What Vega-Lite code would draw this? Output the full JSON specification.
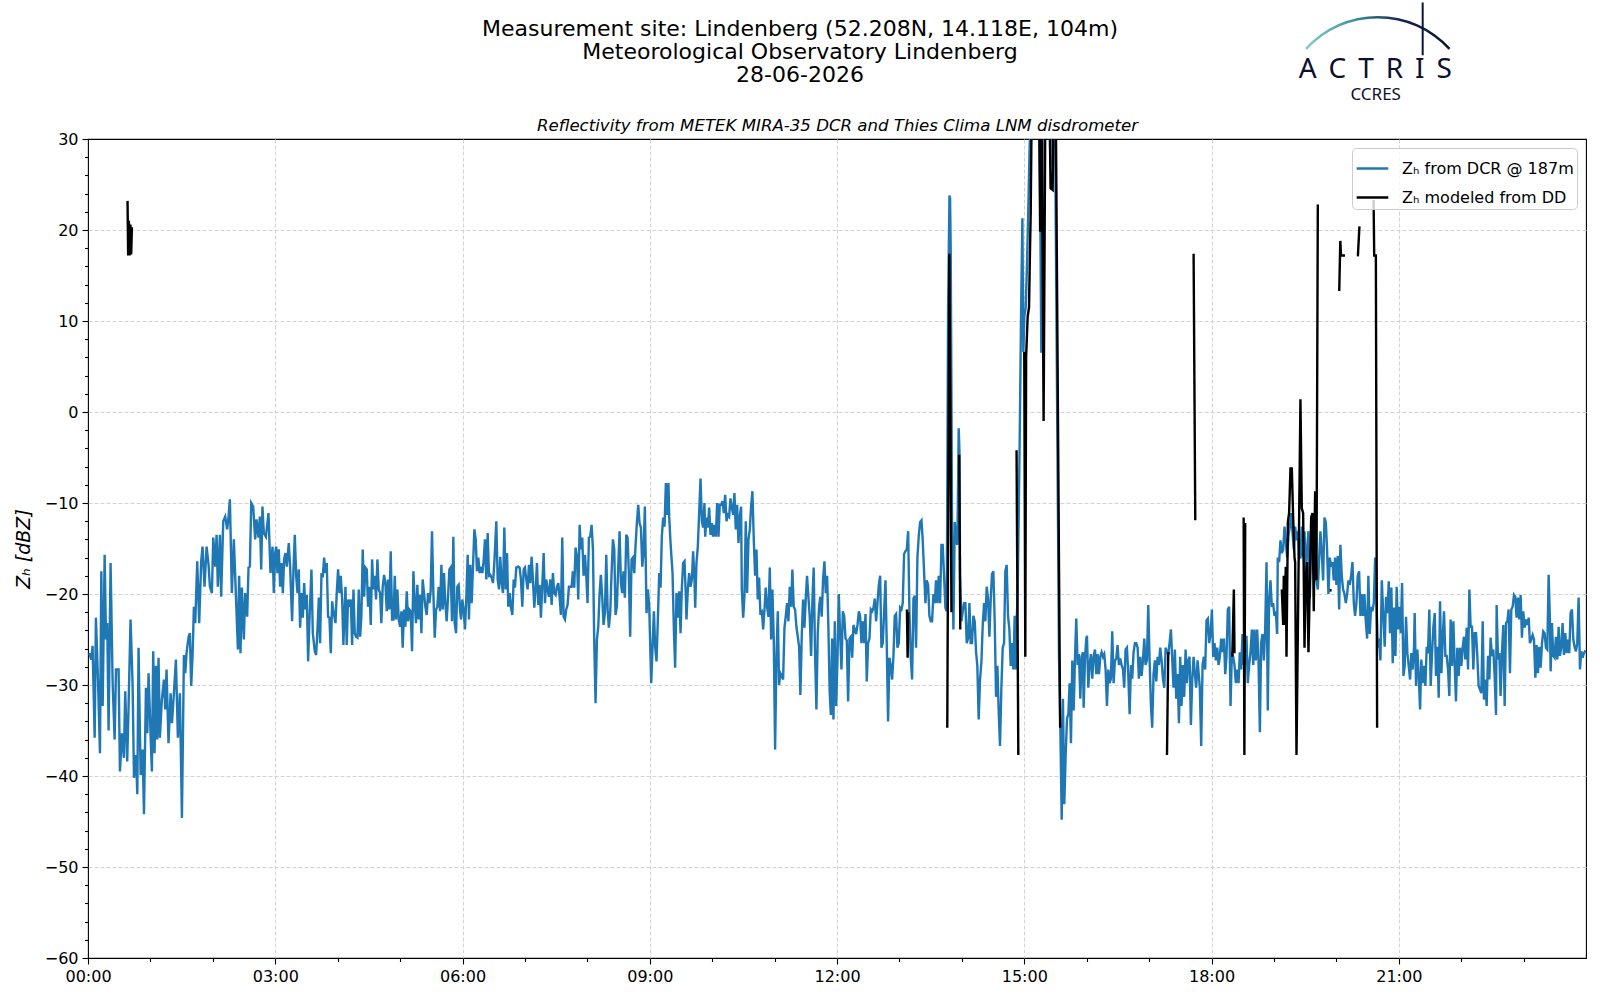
{
  "$schema": "https://vega.github.io/schema/vega-lite/v6.json",
  "width": 1498,
  "height": 819,
  "autosize": {"type": "none"},
  "padding": {"left": 88, "top": 139, "right": 14, "bottom": 42},
  "background": "white",
  "title": {
    "text": ["Measurement site: Lindenberg (52.208N, 14.118E, 104m)", "Meteorological Observatory Lindenberg", "28-06-2026"],
    "font": "DejaVu Sans",
    "fontSize": 22,
    "fontWeight": "normal",
    "lineHeight": 23,
    "color": "black",
    "anchor": "middle",
    "dx": -37,
    "offset": 0,
    "dy": 85.5
  },
  "datasets": {
    "dcr": [
      {"m":1.2,"z":-26.5},{"m":3.2,"z":-27.2},{"m":4.4,"z":-25.7},{"m":6.4,"z":-35.8},{"m":7.6,"z":-22.6},{"m":9.6,"z":-29.4},{"m":11.5,"z":-37.5},{"m":12.8,"z":-17.5},{"m":14.1,"z":-32.3},{"m":16,"z":-15.7},
      {"m":17.3,"z":-25},{"m":18.5,"z":-23.2},{"m":19.8,"z":-35},{"m":21.7,"z":-16.6},{"m":23.7,"z":-29.8},{"m":25.6,"z":-36},{"m":26.9,"z":-28.3},{"m":29.4,"z":-28.3},{"m":30.7,"z":-39.5},{"m":32.6,"z":-35.3},
      {"m":34.5,"z":-38},{"m":35.8,"z":-30.7},{"m":37.7,"z":-38.4},{"m":39,"z":-32.3},{"m":40.9,"z":-22.8},{"m":42.9,"z":-30.1},{"m":44.2,"z":-40.2},{"m":46.1,"z":-37.7},{"m":47.4,"z":-42},{"m":48.6,"z":-25.9},
      {"m":50.6,"z":-39.9},{"m":52.5,"z":-37.1},{"m":53.8,"z":-44.2},{"m":55.7,"z":-30.3},{"m":57,"z":-35.3},{"m":58.2,"z":-28.7},{"m":60.2,"z":-35.6},{"m":61.4,"z":-39.5},{"m":62.7,"z":-26.3},{"m":64,"z":-37.5},
      {"m":65.3,"z":-27.9},{"m":66.6,"z":-36},{"m":67.8,"z":-27},{"m":69.1,"z":-35.8},{"m":71,"z":-31.6},{"m":73,"z":-29.4},{"m":74.2,"z":-32.7},{"m":75.5,"z":-28.3},{"m":77.4,"z":-36.4},{"m":79.4,"z":-30.9},
      {"m":80.7,"z":-34.2},{"m":82.6,"z":-30.9},{"m":84.5,"z":-27.2},{"m":86.4,"z":-35.8},{"m":88.3,"z":-30.9},{"m":90.3,"z":-44.6},{"m":92.2,"z":-26.7},{"m":93.5,"z":-28.7},{"m":94.7,"z":-26.5},{"m":96.7,"z":-24.7},
      {"m":97.9,"z":-24.3},{"m":99.2,"z":-30.1},{"m":100.5,"z":-26.8},{"m":101.8,"z":-21.4},{"m":103.1,"z":-23.2},{"m":105,"z":-16.4},{"m":106.9,"z":-23.2},{"m":108.8,"z":-16.4},{"m":110.1,"z":-14.8},{"m":112,"z":-19.2},
      {"m":114,"z":-14.8},{"m":115.9,"z":-16.8},{"m":117.2,"z":-19.2},{"m":119.1,"z":-19.9},{"m":120.4,"z":-13.8},{"m":122.3,"z":-17},{"m":123.6,"z":-13.5},{"m":124.8,"z":-19.2},{"m":126.8,"z":-13.5},{"m":128,"z":-20.3},
      {"m":130,"z":-12},{"m":131.9,"z":-11.5},{"m":133.8,"z":-12.9},{"m":135.1,"z":-11.5},{"m":136.4,"z":-9.6},{"m":138.3,"z":-19.9},{"m":140.2,"z":-14},{"m":142.1,"z":-19.9},{"m":144.1,"z":-26.1},{"m":145.3,"z":-18},
      {"m":146.6,"z":-26.5},{"m":147.9,"z":-19.3},{"m":149.8,"z":-25},{"m":151.1,"z":-19.9},{"m":153,"z":-22.5},{"m":154.3,"z":-17.1},{"m":155.6,"z":-17},{"m":156.9,"z":-10},{"m":158.8,"z":-10.4},{"m":160.7,"z":-14},
      {"m":162,"z":-11.8},{"m":163.9,"z":-13.8},{"m":165.2,"z":-11.5},{"m":166.5,"z":-17.3},{"m":167.7,"z":-10.4},{"m":169,"z":-13.3},{"m":171,"z":-13.7},{"m":173.5,"z":-11.1},{"m":175.4,"z":-17.7},{"m":177.4,"z":-14.8},
      {"m":178.6,"z":-19.9},{"m":179.9,"z":-15.5},{"m":180.9,"z":-14.8},{"m":182.1,"z":-17.7},{"m":183.4,"z":-15.1},{"m":184.7,"z":-19.2},{"m":186,"z":-16.6},{"m":187.3,"z":-19.9},{"m":188.5,"z":-16.2},{"m":189.8,"z":-15.5},
      {"m":191.1,"z":-17},{"m":193,"z":-14.4},{"m":194.3,"z":-17},{"m":196.2,"z":-23},{"m":197.5,"z":-17.3},{"m":198.8,"z":-13.5},{"m":200.1,"z":-18},{"m":201.4,"z":-19.9},{"m":202.6,"z":-17.3},{"m":203.9,"z":-23.7},
      {"m":205.2,"z":-19.9},{"m":206.5,"z":-22.6},{"m":207.8,"z":-18.8},{"m":209,"z":-21.7},{"m":210.3,"z":-20.1},{"m":211.6,"z":-27.4},{"m":212.9,"z":-22.8},{"m":214.8,"z":-17.3},{"m":216.1,"z":-24.3},{"m":218,"z":-26.3},
      {"m":219.3,"z":-26.7},{"m":220.6,"z":-23.9},{"m":221.9,"z":-20.4},{"m":223.1,"z":-25.4},{"m":224.4,"z":-17.9},{"m":225.7,"z":-18},{"m":227,"z":-16},{"m":228.3,"z":-17.7},{"m":229.5,"z":-16.6},{"m":230.8,"z":-22.5},
      {"m":232.1,"z":-22.6},{"m":233.4,"z":-26.5},{"m":234.7,"z":-20.8},{"m":235.9,"z":-21.9},{"m":237.9,"z":-23.2},{"m":239.1,"z":-19.9},{"m":240.4,"z":-17.3},{"m":241.7,"z":-19.9},{"m":243,"z":-18},{"m":244.3,"z":-20.6},
      {"m":245.5,"z":-25.6},{"m":247.5,"z":-19.2},{"m":248.7,"z":-25.6},{"m":250,"z":-20.6},{"m":251.3,"z":-21.4},{"m":252.6,"z":-20.6},{"m":253.9,"z":-25.6},{"m":255.2,"z":-19.5},{"m":256.4,"z":-24.3},{"m":257.7,"z":-24.7},
      {"m":259,"z":-24.8},{"m":260.3,"z":-19.5},{"m":261.6,"z":-24.7},{"m":262.8,"z":-22.5},{"m":264.1,"z":-15.1},{"m":265.4,"z":-20.3},{"m":266.7,"z":-17.1},{"m":268,"z":-17.3},{"m":269.2,"z":-21.4},{"m":270.5,"z":-19.2},
      {"m":271.8,"z":-23.4},{"m":273.1,"z":-16.2},{"m":274.4,"z":-19.5},{"m":275.6,"z":-18},{"m":276.9,"z":-20.6},{"m":278.2,"z":-16.2},{"m":279.5,"z":-19.5},{"m":280.8,"z":-19.9},{"m":282,"z":-23.2},{"m":283.3,"z":-19.2},
      {"m":284.6,"z":-17.9},{"m":285.9,"z":-18.8},{"m":287.2,"z":-21.9},{"m":288.4,"z":-18.4},{"m":289.7,"z":-21.7},{"m":291,"z":-15.3},{"m":292.3,"z":-22.8},{"m":293.6,"z":-22.8},{"m":294.9,"z":-18},{"m":296.1,"z":-22.8},
      {"m":297.4,"z":-19.5},{"m":298.7,"z":-22.8},{"m":300,"z":-23.6},{"m":301.3,"z":-21.9},{"m":302.5,"z":-25.9},{"m":303.8,"z":-21.7},{"m":305.1,"z":-23.6},{"m":306.4,"z":-19.7},{"m":307.7,"z":-23},{"m":308.9,"z":-21.7},
      {"m":310.2,"z":-21.9},{"m":311.5,"z":-26.3},{"m":312.8,"z":-17.5},{"m":314.1,"z":-21},{"m":315.3,"z":-23.2},{"m":316.6,"z":-19},{"m":317.9,"z":-22.8},{"m":319.2,"z":-20.1},{"m":320.5,"z":-24.3},{"m":321.7,"z":-18.4},
      {"m":323,"z":-19.9},{"m":324.3,"z":-21.4},{"m":325.6,"z":-22.3},{"m":326.9,"z":-19.9},{"m":328.2,"z":-21},{"m":329.4,"z":-19.7},{"m":330.7,"z":-13.1},{"m":332,"z":-19.9},{"m":333.3,"z":-24.8},{"m":334.6,"z":-21.7},
      {"m":335.8,"z":-21.4},{"m":337.1,"z":-19.2},{"m":338.4,"z":-21.9},{"m":339.7,"z":-16.8},{"m":341,"z":-21.7},{"m":342.2,"z":-17.7},{"m":343.5,"z":-21},{"m":344.8,"z":-23},{"m":346.1,"z":-20.3},{"m":347.4,"z":-17.3},
      {"m":348.6,"z":-17.1},{"m":349.9,"z":-23},{"m":351.2,"z":-13.7},{"m":352.5,"z":-23.2},{"m":353.8,"z":-24.3},{"m":355,"z":-19.2},{"m":356.3,"z":-19},{"m":357.6,"z":-21.7},{"m":358.6,"z":-22.8},{"m":359.8,"z":-20.6},
      {"m":361.1,"z":-21.7},{"m":362.4,"z":-23.9},{"m":363.7,"z":-20.3},{"m":365,"z":-15.7},{"m":366.2,"z":-22.8},{"m":367.5,"z":-16.8},{"m":368.8,"z":-21},{"m":370.1,"z":-17},{"m":371.4,"z":-12.9},{"m":372.7,"z":-14},
      {"m":373.9,"z":-17.5},{"m":375.2,"z":-16},{"m":376.5,"z":-17.7},{"m":377.8,"z":-17},{"m":379.1,"z":-17.7},{"m":380.3,"z":-16.4},{"m":381.6,"z":-14},{"m":382.9,"z":-18.4},{"m":384.2,"z":-13.3},{"m":385.5,"z":-18},
      {"m":386.7,"z":-17.9},{"m":388,"z":-18.2},{"m":389.3,"z":-18.8},{"m":390.6,"z":-16.6},{"m":392.5,"z":-12},{"m":393.8,"z":-18.4},{"m":395.1,"z":-19.5},{"m":396.3,"z":-15.9},{"m":397.6,"z":-18.8},{"m":398.9,"z":-19.9},
      {"m":400.2,"z":-12.7},{"m":401.5,"z":-19.5},{"m":402.8,"z":-15.5},{"m":404,"z":-21.4},{"m":405.3,"z":-19.9},{"m":406.6,"z":-21.5},{"m":407.9,"z":-22.3},{"m":409.2,"z":-18.4},{"m":410.4,"z":-19.3},{"m":411.7,"z":-17.1},
      {"m":413.6,"z":-17},{"m":414.9,"z":-17.1},{"m":416.2,"z":-18.4},{"m":417.5,"z":-21.4},{"m":418.8,"z":-17.3},{"m":420,"z":-17.1},{"m":421.3,"z":-18.4},{"m":422.6,"z":-19.5},{"m":423.9,"z":-16.8},{"m":425.2,"z":-18.8},
      {"m":426.4,"z":-15.9},{"m":427.7,"z":-18.4},{"m":429,"z":-21.5},{"m":430.3,"z":-19.5},{"m":431.6,"z":-16.6},{"m":432.9,"z":-21.2},{"m":434.1,"z":-19},{"m":435.4,"z":-22.6},{"m":436.7,"z":-19},{"m":438,"z":-15.5},
      {"m":439.3,"z":-21},{"m":440.5,"z":-18.4},{"m":441.8,"z":-19.5},{"m":443.1,"z":-20.3},{"m":444.4,"z":-18.4},{"m":445.7,"z":-21.2},{"m":446.9,"z":-17.7},{"m":448.2,"z":-19.9},{"m":449.5,"z":-20.1},{"m":450.8,"z":-19.2},
      {"m":452.1,"z":-18.8},{"m":453.3,"z":-20.3},{"m":454.6,"z":-22.3},{"m":455.9,"z":-13.8},{"m":457.2,"z":-22.5},{"m":458.5,"z":-22.8},{"m":459.7,"z":-21.7},{"m":461,"z":-21.2},{"m":462.3,"z":-19.2},{"m":463.6,"z":-19.2},
      {"m":464.9,"z":-19.2},{"m":466.1,"z":-17.5},{"m":467.4,"z":-19.3},{"m":468.7,"z":-14.9},{"m":470,"z":-15.9},{"m":471.3,"z":-20.6},{"m":472.6,"z":-12.4},{"m":473.8,"z":-15.1},{"m":475.1,"z":-13.8},{"m":476.4,"z":-18},
      {"m":477.7,"z":-15.7},{"m":479,"z":-18},{"m":480.2,"z":-21},{"m":481.5,"z":-13.8},{"m":482.8,"z":-13.7},{"m":484.1,"z":-12.4},{"m":485.4,"z":-15.1},{"m":486.6,"z":-25},{"m":487.9,"z":-32},{"m":489.2,"z":-25},
      {"m":490.5,"z":-23.6},{"m":491.8,"z":-19.9},{"m":493,"z":-17.9},{"m":494.3,"z":-20.3},{"m":495.6,"z":-23.4},{"m":496.9,"z":-22.1},{"m":498.2,"z":-15.7},{"m":499.5,"z":-21.7},{"m":500.7,"z":-23.7},{"m":502,"z":-22.1},
      {"m":503.3,"z":-17.7},{"m":504.6,"z":-14},{"m":505.9,"z":-15.1},{"m":507.1,"z":-22.3},{"m":508.4,"z":-21.4},{"m":509.7,"z":-17},{"m":511,"z":-13.1},{"m":512.3,"z":-18.8},{"m":513.5,"z":-19.9},{"m":514.8,"z":-17.5},
      {"m":516.1,"z":-20.4},{"m":517.4,"z":-13.5},{"m":518.7,"z":-13.8},{"m":519.9,"z":-17.7},{"m":521.2,"z":-24.7},{"m":522.5,"z":-16.2},{"m":523.8,"z":-16},{"m":525.1,"z":-17.7},{"m":526.3,"z":-14.8},{"m":527.6,"z":-12.2},
      {"m":528.9,"z":-10.2},{"m":530.2,"z":-12.2},{"m":531.5,"z":-12.7},{"m":532.8,"z":-17},{"m":534,"z":-15.5},{"m":535.3,"z":-10.4},{"m":536.9,"z":-22.1},{"m":538.2,"z":-19.5},{"m":539.5,"z":-21.4},{"m":541.4,"z":-29.8},
      {"m":542.7,"z":-25.8},{"m":544,"z":-21.9},{"m":545.2,"z":-25.8},{"m":546.5,"z":-27.4},{"m":547.8,"z":-22.8},{"m":549.1,"z":-17.7},{"m":550.4,"z":-19.3},{"m":551.6,"z":-13.7},{"m":552.9,"z":-11.6},{"m":554.2,"z":-12.6},
      {"m":555.5,"z":-7.8},{"m":556.8,"z":-11.3},{"m":558,"z":-7.8},{"m":558.7,"z":-11.5},{"m":560,"z":-14.4},{"m":561.9,"z":-17.7},{"m":563.2,"z":-23.9},{"m":564.4,"z":-28.1},{"m":565.7,"z":-19.9},{"m":567,"z":-22.6},
      {"m":568.3,"z":-19.7},{"m":569.6,"z":-24.3},{"m":570.8,"z":-19.5},{"m":572.1,"z":-16.6},{"m":573.4,"z":-16.4},{"m":574.7,"z":-20.3},{"m":575.3,"z":-22.8},{"m":576.6,"z":-19.5},{"m":577.9,"z":-17.7},{"m":579.2,"z":-19.2},
      {"m":580.5,"z":-18.4},{"m":581.7,"z":-15.3},{"m":583,"z":-18.4},{"m":583.7,"z":-21.5},{"m":584.9,"z":-16.6},{"m":586.2,"z":-14.8},{"m":587.5,"z":-11.1},{"m":588.8,"z":-7.3},{"m":590.1,"z":-12},{"m":591.3,"z":-12.7},
      {"m":592.6,"z":-10},{"m":593.3,"z":-13.7},{"m":594.5,"z":-11.6},{"m":595.8,"z":-12.7},{"m":597.1,"z":-10.5},{"m":598.4,"z":-13.5},{"m":599.7,"z":-12.2},{"m":600.9,"z":-13.7},{"m":602.2,"z":-12.4},{"m":603.5,"z":-13.7},
      {"m":604.8,"z":-10},{"m":606.1,"z":-13.7},{"m":607.3,"z":-10.2},{"m":608.6,"z":-10.2},{"m":609.9,"z":-9.8},{"m":611.2,"z":-11.1},{"m":612.5,"z":-9.1},{"m":613.8,"z":-12},{"m":615,"z":-11.3},{"m":616.3,"z":-11.5},
      {"m":617.6,"z":-9.5},{"m":618.9,"z":-10.5},{"m":620.2,"z":-11.3},{"m":621.4,"z":-8.9},{"m":622.7,"z":-12.9},{"m":624,"z":-10.2},{"m":625.3,"z":-14.4},{"m":626.6,"z":-11.5},{"m":627.8,"z":-10.4},{"m":628.5,"z":-19.5},
      {"m":629.8,"z":-22.6},{"m":631,"z":-20.3},{"m":632.3,"z":-12},{"m":633.6,"z":-19.9},{"m":634.9,"z":-14},{"m":636.2,"z":-12.9},{"m":637.4,"z":-10.4},{"m":638.7,"z":-8.7},{"m":640,"z":-14},{"m":641.3,"z":-18},
      {"m":642.6,"z":-15.1},{"m":643.8,"z":-20.6},{"m":645.1,"z":-18.2},{"m":646.4,"z":-22.3},{"m":647.7,"z":-21.7},{"m":649,"z":-23.9},{"m":650.3,"z":-21.7},{"m":651.5,"z":-19.3},{"m":652.8,"z":-21.4},{"m":654.1,"z":-22.5},
      {"m":655.4,"z":-17.1},{"m":656.7,"z":-25},{"m":657.9,"z":-19.5},{"m":659.2,"z":-25},{"m":660.5,"z":-37.1},{"m":661.8,"z":-26.8},{"m":663.1,"z":-21.9},{"m":664.3,"z":-30},{"m":665.6,"z":-28.7},{"m":666.9,"z":-29},
      {"m":668.2,"z":-29.4},{"m":669.5,"z":-23.7},{"m":670.7,"z":-22.5},{"m":672,"z":-21},{"m":673.3,"z":-23},{"m":674.6,"z":-19.2},{"m":675.9,"z":-21.4},{"m":677.1,"z":-17.3},{"m":678.4,"z":-21.4},{"m":679.7,"z":-21.7},
      {"m":681,"z":-23.6},{"m":682.3,"z":-24.7},{"m":683.6,"z":-25.8},{"m":684.8,"z":-31.1},{"m":686.1,"z":-24.7},{"m":687.4,"z":-20.6},{"m":688.7,"z":-23.7},{"m":690,"z":-20.4},{"m":691.2,"z":-18},{"m":692.5,"z":-20.3},
      {"m":693.8,"z":-22.5},{"m":695.1,"z":-26.8},{"m":696.4,"z":-20.6},{"m":697.6,"z":-17.1},{"m":698.9,"z":-26.5},{"m":700.2,"z":-32.7},{"m":701.5,"z":-24.3},{"m":702.8,"z":-21.4},{"m":704,"z":-20.3},{"m":705.3,"z":-22.5},
      {"m":706.6,"z":-18.4},{"m":707.9,"z":-16.4},{"m":709.2,"z":-19.9},{"m":710.5,"z":-18},{"m":711.7,"z":-23.6},{"m":713,"z":-30.9},{"m":714.1,"z":-33.3},{"m":715.3,"z":-24.9},{"m":716.6,"z":-33.8},{"m":717.9,"z":-23},
      {"m":719.2,"z":-32.3},{"m":720.5,"z":-27},{"m":721.7,"z":-20},{"m":723,"z":-24.4},{"m":724.3,"z":-28.3},{"m":725.6,"z":-21.9},{"m":726.9,"z":-22.4},{"m":728.2,"z":-24.9},{"m":729.4,"z":-25.1},{"m":730.7,"z":-31.8},
      {"m":732,"z":-24.9},{"m":733.3,"z":-24.7},{"m":734.6,"z":-27},{"m":735.8,"z":-23.4},{"m":737.1,"z":-23.9},{"m":738.4,"z":-24.4},{"m":739.7,"z":-23.4},{"m":741,"z":-21.9},{"m":742.2,"z":-22.4},{"m":743.5,"z":-25.4},
      {"m":744.8,"z":-23},{"m":746.1,"z":-25.4},{"m":747.4,"z":-22.2},{"m":748.6,"z":-29.6},{"m":749.9,"z":-25.4},{"m":751.2,"z":-24.9},{"m":752.5,"z":-21.7},{"m":753.8,"z":-21.9},{"m":755.1,"z":-21.5},{"m":756.3,"z":-20.5},
      {"m":757.6,"z":-23},{"m":758.9,"z":-21},{"m":760.2,"z":-19},{"m":761.5,"z":-18},{"m":762.7,"z":-25.9},{"m":764,"z":-25.4},{"m":765.3,"z":-21.9},{"m":766.6,"z":-18.5},{"m":767.9,"z":-25.9},{"m":769.1,"z":-34},
      {"m":770.4,"z":-27},{"m":771.7,"z":-27.9},{"m":773,"z":-29.4},{"m":774.3,"z":-26.7},{"m":775.5,"z":-22.4},{"m":776.8,"z":-22.2},{"m":778.1,"z":-25.9},{"m":779.4,"z":-25.4},{"m":780.7,"z":-21.5},{"m":782,"z":-21.7},
      {"m":783.2,"z":-21},{"m":784.5,"z":-15.6},{"m":785.8,"z":-15.3},{"m":787.1,"z":-15.1},{"m":788.4,"z":-13.1},{"m":789.6,"z":-21.9},{"m":790.9,"z":-27},{"m":792.2,"z":-29.4},{"m":793.5,"z":-20.5},{"m":794.8,"z":-20.2},
      {"m":796,"z":-25.9},{"m":797.3,"z":-16},{"m":798.6,"z":-13.6},{"m":799.9,"z":-12.1},{"m":801.2,"z":-11.9},{"m":802.4,"z":-14.1},{"m":803.7,"z":-17.5},{"m":805,"z":-21},{"m":806.3,"z":-18.5},{"m":807.6,"z":-19},
      {"m":808.8,"z":-22.4},{"m":810.1,"z":-23},{"m":811.4,"z":-23},{"m":812.7,"z":-20},{"m":814,"z":-21},{"m":815.2,"z":-18.5},{"m":816.5,"z":-21},{"m":817.8,"z":-18},{"m":819.1,"z":-21},{"m":820.4,"z":-14.6},
      {"m":821.6,"z":-14.6},{"m":822.9,"z":-18},{"m":824.2,"z":-21.5},{"m":825.5,"z":-21.9},{"m":826.8,"z":11.5},{"m":828.1,"z":23.8},{"m":828.7,"z":23.5},{"m":829.3,"z":17.9},{"m":830,"z":1.7},{"m":830.6,"z":-13.1},
      {"m":831.9,"z":-23.9},{"m":833.2,"z":-12.1},{"m":834.5,"z":-14.1},{"m":835.7,"z":-14.6},{"m":837,"z":-1.8},{"m":837.7,"z":-4.3},{"m":838.3,"z":-18},{"m":839.6,"z":-23},{"m":840.9,"z":-21.9},{"m":842.1,"z":-21},
      {"m":843.4,"z":-21},{"m":844.7,"z":-25.4},{"m":846,"z":-24.9},{"m":847.3,"z":-21},{"m":848.5,"z":-25.4},{"m":849.8,"z":-25.4},{"m":851.1,"z":-22.4},{"m":852.4,"z":-23},{"m":853.7,"z":-26.4},{"m":854.9,"z":-27.9},
      {"m":856.2,"z":-33.8},{"m":857.5,"z":-29.4},{"m":858.8,"z":-27.5},{"m":860.1,"z":-23.4},{"m":861.4,"z":-21},{"m":862.6,"z":-23},{"m":863.9,"z":-19.2},{"m":865.2,"z":-20.5},{"m":866.5,"z":-24.7},{"m":867.8,"z":-20.5},
      {"m":869,"z":-17.8},{"m":870.3,"z":-17.5},{"m":871.6,"z":-23},{"m":872.9,"z":-31.3},{"m":874.2,"z":-27.9},{"m":875.4,"z":-32.8},{"m":876.7,"z":-36.7},{"m":878,"z":-30.3},{"m":879.3,"z":-25.9},{"m":880.6,"z":-25.4},
      {"m":881.8,"z":-17.5},{"m":883.1,"z":-16.8},{"m":884.4,"z":-22.4},{"m":885.7,"z":-23.9},{"m":887,"z":-27.9},{"m":888.3,"z":-25.4},{"m":889.5,"z":-28.3},{"m":890.8,"z":-22.4},{"m":891.1,"z":-23.4},{"m":891.8,"z":-28.3},
      {"m":892.4,"z":-24.4},{"m":893.7,"z":-19.5},{"m":895.6,"z":-3.3},{"m":896.9,"z":10.5},{"m":898.2,"z":21.3},{"m":899.1,"z":6.6},{"m":900.1,"z":10.5},{"m":901.4,"z":11.5},{"m":902.7,"z":16.4},{"m":903.9,"z":22.3},
      {"m":905.2,"z":29.2},{"m":906.5,"z":33},{"m":914.2,"z":33},{"m":914.8,"z":32},{"m":916.4,"z":6.5},{"m":917.7,"z":32},{"m":924.4,"z":33},{"m":925.1,"z":27},{"m":925.7,"z":33},{"m":929.5,"z":33},
      {"m":933.4,"z":-26.9},{"m":934.7,"z":-34.7},{"m":936,"z":-44.8},{"m":937.2,"z":-31.5},{"m":938.5,"z":-43.1},{"m":939.8,"z":-37.7},{"m":941.1,"z":-33.7},{"m":942.4,"z":-33.2},{"m":943.6,"z":-29.8},{"m":944.9,"z":-36.4},
      {"m":946.2,"z":-27.3},{"m":947.5,"z":-32.8},{"m":948.8,"z":-26.9},{"m":950,"z":-22.7},{"m":951.3,"z":-27.8},{"m":952.6,"z":-26.6},{"m":953.9,"z":-31.5},{"m":955.2,"z":-26.9},{"m":956.4,"z":-26.4},{"m":957.1,"z":-32.5},
      {"m":958.4,"z":-27.1},{"m":959.6,"z":-24.9},{"m":960.3,"z":-24.6},{"m":961.6,"z":-30.3},{"m":962.8,"z":-27.8},{"m":964.1,"z":-26.6},{"m":965.4,"z":-29.3},{"m":966.7,"z":-26.9},{"m":968,"z":-26.1},{"m":969.3,"z":-28.8},
      {"m":970.5,"z":-26.6},{"m":971.8,"z":-28.8},{"m":973.1,"z":-26.9},{"m":974.4,"z":-26.4},{"m":975.7,"z":-26.9},{"m":976.9,"z":-26.6},{"m":978.2,"z":-28.3},{"m":979.5,"z":-32.3},{"m":980.8,"z":-28.3},{"m":982.1,"z":-29.8},
      {"m":983.3,"z":-29.3},{"m":984.6,"z":-24.1},{"m":985.9,"z":-29.8},{"m":987.2,"z":-27.3},{"m":988.5,"z":-27.1},{"m":989.7,"z":-25.6},{"m":991,"z":-27.8},{"m":992.3,"z":-27.1},{"m":993.6,"z":-27.8},{"m":994.9,"z":-28.3},
      {"m":996.1,"z":-30.3},{"m":997.4,"z":-26.1},{"m":998.7,"z":-25.9},{"m":1000,"z":-28.8},{"m":1001.3,"z":-33.2},{"m":1002.6,"z":-27.8},{"m":1003.8,"z":-29.3},{"m":1005.1,"z":-26.4},{"m":1006.4,"z":-25.4},{"m":1007.7,"z":-25.4},
      {"m":1009,"z":-25.9},{"m":1010.2,"z":-29.3},{"m":1011.5,"z":-26.9},{"m":1012.8,"z":-29},{"m":1014.1,"z":-27.3},{"m":1015.4,"z":-24.9},{"m":1016.6,"z":-27.8},{"m":1017.9,"z":-27.3},{"m":1019.2,"z":-21.2},{"m":1020.5,"z":-27.3},
      {"m":1021.8,"z":-32.3},{"m":1023,"z":-34.7},{"m":1024.3,"z":-28.8},{"m":1025.6,"z":-27.3},{"m":1026.9,"z":-29.6},{"m":1028.2,"z":-26.9},{"m":1029.4,"z":-27.8},{"m":1030.7,"z":-25.9},{"m":1032,"z":-27.3},{"m":1033.3,"z":-29.3},
      {"m":1034.6,"z":-30.3},{"m":1035.9,"z":-25.9},{"m":1037.1,"z":-26.4},{"m":1038.4,"z":-26.6},{"m":1039.7,"z":-25.4},{"m":1041,"z":-23.9},{"m":1042.3,"z":-27.3},{"m":1043.5,"z":-30.3},{"m":1044.8,"z":-26.1},{"m":1046.1,"z":-31.5},
      {"m":1047.4,"z":-28.8},{"m":1048.7,"z":-34.2},{"m":1049.9,"z":-26.9},{"m":1051.2,"z":-32.3},{"m":1052.5,"z":-27.8},{"m":1053.8,"z":-31.3},{"m":1055.1,"z":-26.1},{"m":1056.3,"z":-29.8},{"m":1057.6,"z":-27.3},{"m":1058.9,"z":-26.9},
      {"m":1060.2,"z":-34.4},{"m":1061.5,"z":-29.3},{"m":1062.8,"z":-26.9},{"m":1064,"z":-28.8},{"m":1065.3,"z":-30.3},{"m":1066.6,"z":-27.3},{"m":1068.8,"z":-30.3},{"m":1070.1,"z":-36.7},{"m":1071.4,"z":-27.8},{"m":1072.7,"z":-26.9},
      {"m":1073.9,"z":-28.3},{"m":1075.2,"z":-22.9},{"m":1076.5,"z":-22.7},{"m":1077.8,"z":-25.4},{"m":1079.1,"z":-24.4},{"m":1080.4,"z":-21.7},{"m":1081.6,"z":-26.9},{"m":1082.9,"z":-25.4},{"m":1084.2,"z":-27.3},{"m":1085.5,"z":-25.9},
      {"m":1086.8,"z":-27.8},{"m":1088,"z":-26.9},{"m":1089.3,"z":-24.9},{"m":1090.6,"z":-26.4},{"m":1091.9,"z":-24.9},{"m":1093.2,"z":-28.8},{"m":1094.4,"z":-26.9},{"m":1095.7,"z":-21.7},{"m":1097,"z":-21.4},{"m":1098.3,"z":-32.3},
      {"m":1099.6,"z":-26.4},{"m":1100.8,"z":-26.9},{"m":1102.1,"z":-27.8},{"m":1103.4,"z":-29.8},{"m":1104.7,"z":-28.3},{"m":1106,"z":-29.8},{"m":1107.2,"z":-26.4},{"m":1108.5,"z":-28.3},{"m":1109.8,"z":-24.4},{"m":1111.1,"z":-27.8},
      {"m":1112.4,"z":-24.9},{"m":1113.6,"z":-24.6},{"m":1114.9,"z":-29.8},{"m":1116.2,"z":-27.8},{"m":1117.5,"z":-26.4},{"m":1118.8,"z":-23.9},{"m":1120.1,"z":-27.8},{"m":1121.3,"z":-23.9},{"m":1122.6,"z":-27.3},{"m":1123.9,"z":-23.9},
      {"m":1125.2,"z":-27.3},{"m":1126.5,"z":-35.2},{"m":1127.7,"z":-25.4},{"m":1129,"z":-24.4},{"m":1130.3,"z":-27.3},{"m":1131.6,"z":-23.9},{"m":1132.9,"z":-16.5},{"m":1134.1,"z":-32.8},{"m":1135.4,"z":-20.5},{"m":1136.7,"z":-18.5},
      {"m":1138,"z":-21.4},{"m":1139.3,"z":-21},{"m":1140.5,"z":-22.4},{"m":1141.8,"z":-21.9},{"m":1143.1,"z":-24.4},{"m":1143.7,"z":-16},{"m":1145,"z":-16.5},{"m":1146.3,"z":-14.1},{"m":1147.6,"z":-15.5},{"m":1148.9,"z":-15.1},
      {"m":1150.2,"z":-12.6},{"m":1151.4,"z":-14.1},{"m":1152.7,"z":-16},{"m":1154,"z":-13.6},{"m":1155.3,"z":-12.6},{"m":1156.6,"z":-11.1},{"m":1157.8,"z":-13.1},{"m":1159.1,"z":-15.1},{"m":1160.4,"z":-12.6},{"m":1161.7,"z":-14.1},
      {"m":1163,"z":-13.1},{"m":1164.2,"z":-16},{"m":1165.5,"z":-16},{"m":1166.8,"z":-12.6},{"m":1168.1,"z":-16},{"m":1169.4,"z":-13.1},{"m":1170.6,"z":-17.5},{"m":1171.9,"z":-15.1},{"m":1173.2,"z":-13.1},{"m":1174.5,"z":-20.5},
      {"m":1175.8,"z":-14.6},{"m":1177.1,"z":-15.5},{"m":1178.3,"z":-16},{"m":1179.6,"z":-13.1},{"m":1180.9,"z":-18.5},{"m":1182.2,"z":-19.5},{"m":1183.5,"z":-16},{"m":1184.7,"z":-13.1},{"m":1186,"z":-15.5},{"m":1187.3,"z":-18.5},
      {"m":1188.6,"z":-11.6},{"m":1189.9,"z":-12.1},{"m":1191.1,"z":-15.1},{"m":1192.4,"z":-20},{"m":1193.7,"z":-16},{"m":1195,"z":-17},{"m":1196.3,"z":-16.5},{"m":1197.5,"z":-18.5},{"m":1198.8,"z":-16},{"m":1200.1,"z":-19},
      {"m":1201.4,"z":-15.8},{"m":1202.7,"z":-21.7},{"m":1203.9,"z":-14.6},{"m":1205.2,"z":-18},{"m":1206.5,"z":-19.5},{"m":1207.8,"z":-20},{"m":1209.1,"z":-21},{"m":1210.4,"z":-20},{"m":1211.6,"z":-18.5},{"m":1212.9,"z":-19},
      {"m":1214.2,"z":-18},{"m":1215.5,"z":-16.5},{"m":1216.8,"z":-21},{"m":1218,"z":-22.4},{"m":1219.3,"z":-21},{"m":1220.6,"z":-18},{"m":1221.9,"z":-17.5},{"m":1223.2,"z":-22.4},{"m":1224.4,"z":-20},{"m":1225.7,"z":-22.4},
      {"m":1227,"z":-20},{"m":1228.3,"z":-23},{"m":1229.6,"z":-24.9},{"m":1230.8,"z":-18},{"m":1232.1,"z":-24.4},{"m":1233.4,"z":-21.4},{"m":1234.7,"z":-21.9},{"m":1236,"z":-21},{"m":1237.3,"z":-16},{"m":1238.5,"z":-20.5},
      {"m":1239.8,"z":-25.9},{"m":1241.1,"z":-24.9},{"m":1242.4,"z":-27.3},{"m":1243.7,"z":-18.5},{"m":1245,"z":-21.9},{"m":1246.5,"z":-25.8},{"m":1247.8,"z":-20.3},{"m":1249.1,"z":-22.1},{"m":1250.4,"z":-18.6},{"m":1251.6,"z":-24.3},
      {"m":1252.9,"z":-19.3},{"m":1254.2,"z":-27.6},{"m":1255.5,"z":-21.5},{"m":1256.8,"z":-26.8},{"m":1258,"z":-19.2},{"m":1259.3,"z":-23.9},{"m":1260.6,"z":-21.4},{"m":1261.9,"z":-24.3},{"m":1263.2,"z":-18.8},{"m":1264.5,"z":-29},
      {"m":1265.7,"z":-27.9},{"m":1267,"z":-22.5},{"m":1268.3,"z":-26.5},{"m":1269.6,"z":-27.9},{"m":1270.9,"z":-29.4},{"m":1272.1,"z":-26.5},{"m":1273.4,"z":-28.3},{"m":1274.7,"z":-25.8},{"m":1275.3,"z":-22.1},{"m":1276.6,"z":-30.1},
      {"m":1277.9,"z":-26.1},{"m":1279.2,"z":-29},{"m":1280.5,"z":-32.7},{"m":1281.7,"z":-27.2},{"m":1283,"z":-29.8},{"m":1284.3,"z":-27.9},{"m":1285.6,"z":-30.1},{"m":1286.9,"z":-25.8},{"m":1288.1,"z":-26.5},{"m":1289.4,"z":-21.7},
      {"m":1290.7,"z":-30.1},{"m":1292,"z":-26.5},{"m":1293.3,"z":-23.6},{"m":1294.6,"z":-22.1},{"m":1295.8,"z":-29},{"m":1297.1,"z":-25.8},{"m":1298.4,"z":-31.4},{"m":1299.7,"z":-20.8},{"m":1301,"z":-28.7},{"m":1302.2,"z":-25},
      {"m":1303.5,"z":-21.9},{"m":1304.8,"z":-26.8},{"m":1306.1,"z":-26.8},{"m":1307.4,"z":-28.3},{"m":1308.6,"z":-31.2},{"m":1309.9,"z":-22.8},{"m":1311.2,"z":-27.9},{"m":1312.5,"z":-23},{"m":1313.8,"z":-27.9},{"m":1315,"z":-31.8},
      {"m":1316.3,"z":-25.9},{"m":1317.6,"z":-29},{"m":1318.9,"z":-25.9},{"m":1320.2,"z":-27.9},{"m":1321.5,"z":-25.8},{"m":1322.7,"z":-24.7},{"m":1324,"z":-27.2},{"m":1325.3,"z":-23.7},{"m":1326.6,"z":-28.3},{"m":1327.9,"z":-19.5},
      {"m":1329.1,"z":-23.6},{"m":1330.4,"z":-23.6},{"m":1331.7,"z":-28.3},{"m":1333,"z":-24.3},{"m":1334.3,"z":-24.3},{"m":1335.5,"z":-26.8},{"m":1336.8,"z":-30.1},{"m":1338.1,"z":-30.5},{"m":1339.4,"z":-30.9},{"m":1340.7,"z":-23},
      {"m":1341.9,"z":-31.6},{"m":1343.2,"z":-29.4},{"m":1344.5,"z":-32.3},{"m":1345.8,"z":-26.8},{"m":1347.1,"z":-29.4},{"m":1348.3,"z":-24.8},{"m":1349.6,"z":-26.8},{"m":1350.9,"z":-26.1},{"m":1352.2,"z":-29},{"m":1353.5,"z":-33.3},
      {"m":1354.1,"z":-21.2},{"m":1355.4,"z":-27.2},{"m":1356.7,"z":-26.5},{"m":1357.9,"z":-31.2},{"m":1359.2,"z":-26.5},{"m":1360.5,"z":-23.4},{"m":1361.8,"z":-32.3},{"m":1363.1,"z":-23.2},{"m":1364.4,"z":-23},{"m":1365.6,"z":-21.7},
      {"m":1366.9,"z":-28.7},{"m":1368.2,"z":-21.7},{"m":1369.5,"z":-21.4},{"m":1370.8,"z":-20.1},{"m":1372,"z":-20.3},{"m":1373.3,"z":-22.6},{"m":1374.6,"z":-20.4},{"m":1375.9,"z":-22.8},{"m":1377.2,"z":-20.1},{"m":1378.4,"z":-24.8},
      {"m":1379.7,"z":-21.9},{"m":1381,"z":-23.7},{"m":1382.3,"z":-22.8},{"m":1383.6,"z":-23.4},{"m":1384.9,"z":-22.6},{"m":1386.1,"z":-25.4},{"m":1387.4,"z":-25},{"m":1388.7,"z":-24.5},{"m":1390,"z":-25},{"m":1391.3,"z":-29.2},
      {"m":1392.5,"z":-25.6},{"m":1393.8,"z":-28.7},{"m":1395.1,"z":-25.8},{"m":1396.4,"z":-28.1},{"m":1397.7,"z":-25.4},{"m":1398.9,"z":-24.1},{"m":1400.2,"z":-24.3},{"m":1401.5,"z":-25.9},{"m":1402.8,"z":-26.1},{"m":1404.1,"z":-17.9},
      {"m":1405.3,"z":-22.8},{"m":1406,"z":-28.5},{"m":1407.3,"z":-23.2},{"m":1408.5,"z":-26.8},{"m":1409.8,"z":-27},{"m":1411.1,"z":-24.7},{"m":1412.4,"z":-27.2},{"m":1413.7,"z":-23.6},{"m":1414.9,"z":-26.8},{"m":1416.2,"z":-25.9},
      {"m":1417.5,"z":-23.2},{"m":1418.8,"z":-26.7},{"m":1420.1,"z":-24.3},{"m":1421.4,"z":-26.5},{"m":1422.6,"z":-25},{"m":1423.9,"z":-26.5},{"m":1425.2,"z":-22.1},{"m":1426.5,"z":-21.7},{"m":1427.8,"z":-25},{"m":1429,"z":-25.8},
      {"m":1430.3,"z":-26.3},{"m":1431.6,"z":-25.4},{"m":1432.9,"z":-20.4},{"m":1434.2,"z":-28.3},{"m":1435.4,"z":-26.3},{"m":1436.7,"z":-27},{"m":1438,"z":-26.5},{"m":1439.5,"z":-26.2}
    ],
    "dd": [
      {"g":"a","m":38.0,"z":23.2},{"g":"a","m":38.6,"z":17.2},{"g":"a","m":39.3,"z":21.0},{"g":"a","m":40.0,"z":17.2},{"g":"a","m":40.8,"z":20.6},{"g":"a","m":41.5,"z":17.3},{"g":"a","m":42.2,"z":20.3},
      {"g":"b","m":787.2,"z":-21.7},{"g":"b","m":787.9,"z":-27.0},{"g":"b","m":788.5,"z":-22.0},
      {"g":"c","m":826.0,"z":-34.7},{"g":"c","m":828.0,"z":17.4},{"g":"c","m":829.0,"z":1.2},{"g":"c","m":830.0,"z":-22.0},
      {"g":"d","m":837.5,"z":-4.7},{"g":"d","m":838.5,"z":-23.9},
      {"g":"e","m":892.6,"z":-4.2},{"g":"e","m":894.3,"z":-37.7},
      {"g":"f","m":900.0,"z":6.6},{"g":"f","m":901.0,"z":-26.9},{"g":"f","m":901.8,"z":6.1},{"g":"f","m":903.3,"z":10.5},{"g":"f","m":904.6,"z":11.5},{"g":"f","m":905.5,"z":17.6},{"g":"f","m":906.2,"z":21.8},{"g":"f","m":907.2,"z":34},{"g":"f","m":914.2,"z":34},{"g":"f","m":915.3,"z":19.8},{"g":"f","m":916.8,"z":34},{"g":"f","m":918.6,"z":-1.0},{"g":"f","m":920.3,"z":34},{"g":"f","m":924.3,"z":34},{"g":"f","m":925.3,"z":24.6},{"g":"f","m":927.3,"z":24.4},{"g":"f","m":928.3,"z":34},{"g":"f","m":930.3,"z":34},{"g":"f","m":934.5,"z":-34.7},
      {"g":"g","m":1037.2,"z":-37.7},{"g":"g","m":1038.4,"z":-26.4},{"g":"g","m":1039.2,"z":-26.6},
      {"g":"h","m":1062.8,"z":17.4},{"g":"h","m":1064.4,"z":-11.9},
      {"g":"i","m":1100.0,"z":-26.9},{"g":"i","m":1101.5,"z":-19.5},{"g":"i","m":1102.1,"z":-26.5},
      {"g":"j","m":1110.9,"z":-11.6},{"g":"j","m":1111.6,"z":-37.7},{"g":"j","m":1112.4,"z":-12.2},
      {"g":"k","m":1147.6,"z":-19.5},{"g":"k","m":1148.9,"z":-23.4},{"g":"k","m":1149.5,"z":-18},{"g":"k","m":1150.2,"z":-23.4},{"g":"k","m":1151.4,"z":-17},{"g":"k","m":1152.1,"z":-26.9},{"g":"k","m":1153.4,"z":-12.1},{"g":"k","m":1154.6,"z":-11.1},{"g":"k","m":1155.9,"z":-6.2},{"g":"k","m":1157.2,"z":-6.2},{"g":"k","m":1158.5,"z":-11.6},{"g":"k","m":1159.8,"z":-16},{"g":"k","m":1160.4,"z":-16.5},{"g":"k","m":1161.7,"z":-37.7},{"g":"k","m":1165.5,"z":1.4},{"g":"k","m":1166.8,"z":-10.6},{"g":"k","m":1168.1,"z":-11.1},{"g":"k","m":1169.4,"z":-25.9},{"g":"k","m":1170.6,"z":-18},{"g":"k","m":1171.9,"z":-16.5},{"g":"k","m":1173.2,"z":-26.4},{"g":"k","m":1175.8,"z":-11.6},{"g":"k","m":1177.1,"z":-11.1},{"g":"k","m":1178.3,"z":-21.9},{"g":"k","m":1179.6,"z":-8.7},{"g":"k","m":1180.9,"z":-18.5},{"g":"k","m":1182.2,"z":22.8},
      {"g":"l","m":1193.5,"z":-19.6},{"g":"l","m":1195.5,"z":-19.6},
      {"g":"n","m":1202.8,"z":13.3},{"g":"n","m":1203.8,"z":18.8},{"g":"n","m":1204.5,"z":17.2},{"g":"n","m":1208.3,"z":17.2},
      {"g":"o","m":1220.7,"z":17.1},{"g":"o","m":1222.2,"z":20.4},
      {"g":"p","m":1235.8,"z":23.3},{"g":"p","m":1236.4,"z":17.2},{"g":"p","m":1238.0,"z":17.2},{"g":"p","m":1239.2,"z":-34.7}
    ]
  },
  "layer": [
    {
      "data": {"name": "dcr"},
      "mark": {"type": "line", "strokeWidth": 2.4, "clip": true},
      "encoding": {
        "x": {
          "field": "m",
          "type": "quantitative",
          "scale": {"domain": [0, 1440], "nice": false, "zero": false},
          "axis": {
            "orient": "bottom",
            "title": null,
            "values": [0, 60, 120, 180, 240, 300, 360, 420, 480, 540, 600, 660, 720, 780, 840, 900, 960, 1020, 1080, 1140, 1200, 1260, 1320, 1380],
            "labelExpr": "datum.value % 180 === 0 ? utcFormat(datum.value * 60000, '%H:%M') : ''",
            "labelOverlap": false,
            "labelFlush": false,
            "labelFontSize": 16,
            "labelPadding": 4,
            "domain": false,
            "tickSize": {"condition": {"test": "datum.value % 180 === 0", "value": 6}, "value": 3.5},
            "tickWidth": 1.1,
            "grid": true,
            "gridColor": "#d3d3d3",
            "gridDash": [4, 2],
            "gridWidth": 1,
            "gridOpacity": {"condition": {"test": "datum.value % 180 === 0 && datum.value > 0", "value": 1}, "value": 0}
          }
        },
        "y": {
          "field": "z",
          "type": "quantitative",
          "scale": {"domain": [-60, 30], "nice": false, "zero": false},
          "axis": {
            "orient": "left",
            "title": "Zₕ [dBZ]",
            "titleFontSize": 19,
            "titleFontWeight": "normal",
            "titleFontStyle": "italic",
            "titlePadding": 11,
            "values": [-60, -58, -56, -54, -52, -50, -48, -46, -44, -42, -40, -38, -36, -34, -32, -30, -28, -26, -24, -22, -20, -18, -16, -14, -12, -10, -8, -6, -4, -2, 0, 2, 4, 6, 8, 10, 12, 14, 16, 18, 20, 22, 24, 26, 28, 30],
            "labelExpr": "datum.value % 10 === 0 ? datum.label : ''",
            "labelOverlap": false,
            "labelFlush": false,
            "labelFontSize": 16,
            "labelPadding": 4,
            "domain": false,
            "tickSize": {"condition": {"test": "datum.value % 10 === 0", "value": 6}, "value": 3.5},
            "tickWidth": 1.1,
            "grid": true,
            "gridColor": "#d3d3d3",
            "gridDash": [4, 2],
            "gridWidth": 1,
            "gridOpacity": {"condition": {"test": "datum.value % 10 === 0 && datum.value > -60 && datum.value < 30", "value": 1}, "value": 0}
          }
        },
        "color": {
          "datum": "DCR",
          "scale": {"domain": ["DCR", "DD"], "range": ["#1f77b4", "#000000"]},
          "legend": {
            "orient": "top-right",
            "offset": 9,
            "title": null,
            "labelExpr": "datum.value === 'DCR' ? 'Zₕ from DCR @ 187m' : 'Zₕ modeled from DD'",
            "labelFontSize": 16,
            "labelColor": "black",
            "labelLimit": 0,
            "labelOffset": 12,
            "symbolType": "stroke",
            "symbolStrokeWidth": 2.4,
            "symbolSize": 1000,
            "rowPadding": 3,
            "padding": 3,
            "fillColor": "rgba(255,255,255,0.8)",
            "strokeColor": "#cccccc",
            "cornerRadius": 4
          }
        }
      }
    },
    {
      "data": {"name": "dd"},
      "mark": {"type": "line", "strokeWidth": 2.4, "clip": true},
      "encoding": {
        "x": {
          "field": "m",
          "type": "quantitative",
          "axis": {
            "orient": "top",
            "title": "Reflectivity from METEK MIRA-35 DCR and Thies Clima LNM disdrometer",
            "titleFontSize": 16.6,
            "titleFontWeight": "normal",
            "titleFontStyle": "italic",
            "titlePadding": 6,
            "labels": false,
            "ticks": false,
            "domain": false,
            "grid": false
          }
        },
        "y": {"field": "z", "type": "quantitative", "axis": null},
        "detail": {"field": "g"},
        "color": {"datum": "DD"}
      }
    },
    {
      "data": {"values": [{}]},
      "mark": {"type": "arc", "theta": -0.83, "theta2": 0.83, "outerRadius": 98.5, "innerRadius": 96, "color": {"gradient": "linear", "stops": [{"offset": 0, "color": "#7fd0cd"}, {"offset": 0.35, "color": "#3a8ea0"}, {"offset": 0.65, "color": "#16284d"}, {"offset": 1, "color": "#0d1233"}]}},
      "encoding": {
        "x": {"datum": 1239.8, "type": "quantitative", "axis": null},
        "y": {"datum": 32.7, "type": "quantitative", "axis": null}
      }
    },
    {
      "data": {"values": [{}]},
      "mark": {"type": "rule", "color": "#0d1233", "strokeWidth": 2},
      "encoding": {
        "x": {"datum": 1283, "type": "quantitative", "axis": null},
        "y": {"datum": 45.0, "type": "quantitative", "axis": null},
        "y2": {"datum": 39.2}
      }
    },
    {
      "data": {"values": [{}]},
      "mark": {"type": "text", "text": "A \u2009C \u2009T \u2009R \u2009I \u2009S", "font": "Noto Sans", "fontSize": 28, "color": "#0d0f2e", "align": "center", "baseline": "alphabetic"},
      "encoding": {
        "x": {"datum": 1237.4, "type": "quantitative", "axis": null},
        "y": {"datum": 36.67, "type": "quantitative", "axis": null}
      }
    },
    {
      "data": {"values": [{}]},
      "mark": {"type": "text", "text": "CCRES", "font": "Noto Sans", "fontSize": 17, "color": "#0d0f2e", "align": "center", "baseline": "alphabetic"},
      "encoding": {
        "x": {"datum": 1237.8, "type": "quantitative", "axis": null},
        "y": {"datum": 34.25, "type": "quantitative", "axis": null}
      }
    }
  ],
  "resolve": {"axis": {"x": "independent", "y": "independent"}},
  "config": {
    "view": {"stroke": "black", "strokeWidth": 1.1},
    "font": "DejaVu Sans",
    "axis": {"labelFont": "DejaVu Sans", "titleFont": "DejaVu Sans", "labelColor": "black", "titleColor": "black", "tickColor": "black"},
    "legend": {"labelFont": "DejaVu Sans"}
  }
}
